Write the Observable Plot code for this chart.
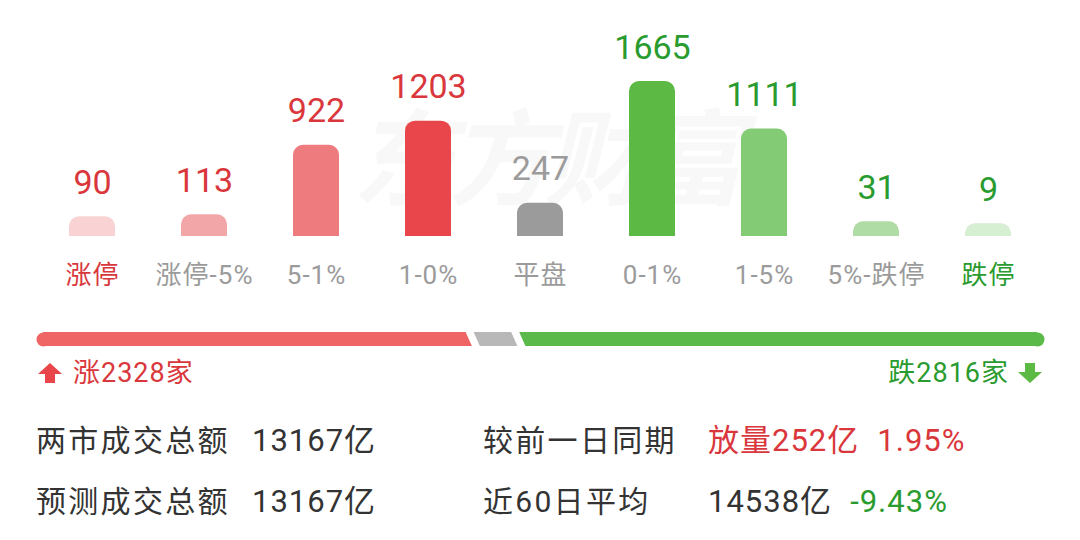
<!DOCTYPE html>
<html>
<head>
<meta charset="utf-8">
<script src="https://cdn.jsdelivr.net/npm/d3@7"></script>
<script src="https://cdn.jsdelivr.net/npm/@observablehq/plot@0.6"></script>
<style>
  html, body { margin: 0; padding: 0; background: #fff; }
  #wrap { position: relative; width: 1080px; height: 540px; overflow: hidden; background: #fff;
          font-family: Roboto, "Noto Sans CJK SC", "Noto Sans", sans-serif; }
  .abs { position: absolute; white-space: nowrap; }
  #wm { left: 352px; top: 100px; font-size: 104px; line-height: 1; font-weight: 700; color: #f8f8f8;
        letter-spacing: -8px; font-style: italic; font-family: "Noto Sans CJK SC", sans-serif; }
  .count { font-size: 27px; line-height: 30px; display: flex; align-items: center; letter-spacing: 1px; }
  .row { font-size: 30px; line-height: 40px; color: #333; letter-spacing: 2.3px; }
  .val { font-size: 31px; letter-spacing: 1px; }
  svg.arrow { display: block; }
</style>
</head>
<body>
<div id="wrap">
  <div id="wm" class="abs">东方财富</div>
  <div id="bars" class="abs" style="left:0;top:0"></div>
  <div id="prog" class="abs" style="left:0;top:324px"></div>
  <div id="upLbl" class="abs count" style="left:37px;top:358px;color:#d9373c"></div>
  <div id="downLbl" class="abs count" style="right:37px;top:358px;color:#2a9b2e"></div>
  <div id="stats"></div>
</div>
<script>
// ---- data ----
const categories = ["涨停", "涨停-5%", "5-1%", "1-0%", "平盘", "0-1%", "1-5%", "5%-跌停", "跌停"];
const counts     = [90, 113, 922, 1203, 247, 1665, 1111, 31, 9];
const barColors  = ["#f9d3d4", "#f3a6a8", "#ee7b7e", "#e8464a", "#9b9b9b", "#5cb944", "#84cb75", "#afdca5", "#d6eed1"];
const valueColors = ["#d9373c", "#d9373c", "#d9373c", "#d9373c", "#9b9b9b", "#2a9b2e", "#2a9b2e", "#2a9b2e", "#2a9b2e"];
const catColors  = ["#d9373c", "#9b9b9b", "#9b9b9b", "#9b9b9b", "#9b9b9b", "#9b9b9b", "#9b9b9b", "#9b9b9b", "#2a9b2e"];

const progLabels = ["涨", "平", "跌"];
const progColors = ["#ef6464", "#b8b8b8", "#5bb94a"];

const statLabels = [["两市成交总额", "较前一日同期"], ["预测成交总额", "近60日平均"]];
const statValues = [["13167亿", "放量252亿"], ["13167亿", "14538亿"]];
const statPct    = [[null, "1.95%"], [null, "-9.43%"]];
const statValueColors = [["#333", "#d9373c"], ["#333", "#333"]];
const statPctColors   = [[null, "#d9373c"], [null, "#2a9b2e"]];

// ---- bar chart ----
const rows = categories.map((c, i) => ({cat: c, count: counts[i], bar: barColors[i], val: valueColors[i], lab: catColors[i]}));
const font = 'Roboto, "Noto Sans CJK SC", sans-serif';

const chart = Plot.plot({
  width: 1080, height: 300,
  marginLeft: 36, marginRight: 36, marginTop: 33, marginBottom: 64,
  style: {background: "transparent", fontFamily: font},
  x: {domain: categories, paddingInner: 0.59, paddingOuter: 0.295, axis: null},
  y: {domain: [0, d3.max(counts)], insetTop: 60, axis: null},
  color: {type: "identity"},
  marks: [
    Plot.barY(rows, {x: "cat", y: "count", fill: "bar", rx: 10, insetTop: -12, insetBottom: -14, clip: true}),
    Plot.text(rows, {x: "cat", y: "count", text: d => String(d.count), fill: "val", fontSize: 34, lineAnchor: "bottom", dy: -35, letterSpacing: 0.5}),
    Plot.text(rows, {x: "cat", text: "cat", fill: "lab", fontSize: 26, frameAnchor: "bottom", lineAnchor: "bottom", dy: 47})
  ]
});
chart.querySelectorAll("text").forEach(t => { if (t.getAttribute("font-size") === "26" || t.closest('g[font-size="26"]')) t.style.letterSpacing = "1px"; });
document.getElementById("bars").appendChild(chart);

// ---- progress bar ----
const upCount = d3.sum(counts.slice(0, 4));
const flatCount = counts[4];
const downCount = d3.sum(counts.slice(5));
const progCounts = [upCount, flatCount, downCount];
const total = d3.sum(progCounts);
const segs = progLabels.map((l, i) => ({label: l, count: progCounts[i], color: progColors[i]}));
const ends = [{x: 0, color: progColors[0]}, {x: total, color: progColors[2]}];
const bounds = [upCount, upCount + flatCount];

const prog = Plot.plot({
  width: 1080, height: 30,
  marginLeft: 43, marginRight: 43, marginTop: 8, marginBottom: 8,
  style: {background: "transparent"},
  x: {domain: [0, total], axis: null},
  color: {type: "identity"},
  marks: [
    Plot.barX(segs, Plot.stackX({x: "count", fill: "color"})),
    Plot.dot(ends, {x: "x", fill: "color", r: 7}),
    Plot.tickX(bounds, {x: d => d, stroke: "white", strokeWidth: 8, insetTop: -2, insetBottom: -2, ariaLabel: "sep"})
  ]
});
prog.querySelectorAll('g[aria-label="sep"] line, g[stroke="white"] line').forEach(l => {
  l.style.transformBox = "fill-box";
  l.style.transformOrigin = "center";
  l.style.transform = "skewX(24deg)";
});
document.getElementById("prog").appendChild(prog);

// ---- count labels ----
const upArrow = '<svg class="arrow" width="26" height="22" viewBox="0 0 26 22"><path d="M13 1 L25 12 L18 12 L18 21 L8 21 L8 12 L1 12 Z" fill="#e8464a"/></svg>';
const downArrow = '<svg class="arrow" width="26" height="22" viewBox="0 0 26 22"><path d="M8 1 L18 1 L18 10 L25 10 L13 21 L1 10 L8 10 Z" fill="#5cb944"/></svg>';
document.getElementById("upLbl").innerHTML = upArrow + '<span style="margin-left:10px">' + progLabels[0] + upCount + '家</span>';
document.getElementById("downLbl").innerHTML = '<span style="margin-right:8px">' + progLabels[2] + downCount + '家</span>' + downArrow;

// ---- stats rows ----
const rowTops = [421, 482];
const colLabelX = [36, 483];
const colValueX = [252, 708];
const stats = document.getElementById("stats");
statLabels.forEach((r, ri) => {
  r.forEach((lab, ci) => {
    const a = document.createElement("div");
    a.className = "abs row";
    a.style.left = colLabelX[ci] + "px"; a.style.top = rowTops[ri] + "px";
    a.textContent = lab;
    stats.appendChild(a);
    const b = document.createElement("div");
    b.className = "abs row val";
    b.style.left = colValueX[ci] + "px"; b.style.top = rowTops[ri] + "px";
    let html = '<span style="color:' + statValueColors[ri][ci] + '">' + statValues[ri][ci] + '</span>';
    if (statPct[ri][ci]) html += '<span style="margin-left:18px;color:' + statPctColors[ri][ci] + '">' + statPct[ri][ci] + '</span>';
    b.innerHTML = html;
    stats.appendChild(b);
  });
});
</script>
</body>
</html>
